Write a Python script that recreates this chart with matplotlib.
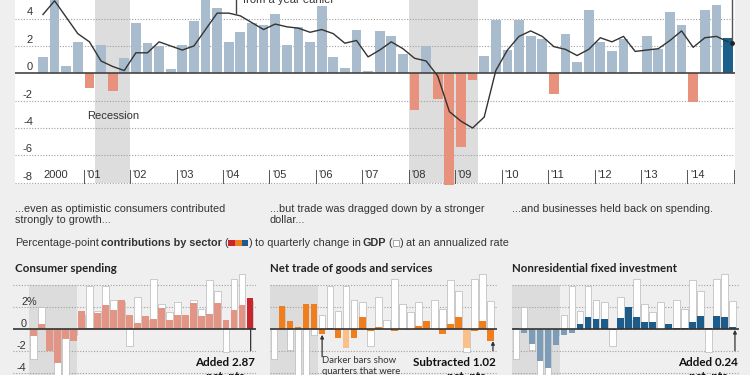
import matplotlib
matplotlib.use('Agg')
import matplotlib.pyplot as plt
from matplotlib.patches import Rectangle

# ---- data ----
years = list(range(2000, 2015))
# quarterly GDP change, annualized (%), 2000Q1 - 2014Q4
gdp = [1.2, 7.8, 0.5, 2.3, -1.1, 2.1, -1.3, 1.1,
       3.7, 2.2, 2.0, 0.3, 2.1, 3.8, 6.9, 4.8,
       2.3, 3.0, 3.7, 3.5, 4.3, 2.1, 3.4, 2.3,
       4.9, 1.2, 0.4, 3.2, 0.2, 3.1, 2.7, 1.4,
       -2.7, 2.0, -1.9, -8.2, -5.4, -0.5, 1.3, 3.9,
       1.7, 3.9, 2.7, 2.5, -1.5, 2.9, 0.8, 4.6,
       2.3, 1.6, 2.5, 0.1, 2.7, 1.8, 4.5, 3.5,
       -2.1, 4.6, 5.0, 2.6]
# change from a year earlier (%)
yoy = [4.3, 5.3, 4.1, 2.9, 2.3, 0.9, 0.5, 0.2,
       1.5, 1.5, 2.3, 2.0, 1.7, 2.0, 3.2, 4.4,
       4.4, 4.2, 3.7, 3.2, 3.6, 3.4, 3.3, 3.0,
       3.2, 2.9, 2.2, 2.4, 1.2, 1.7, 2.3, 1.8,
       1.1, 0.9, -0.2, -2.8, -3.5, -4.0, -3.2, 0.2,
       1.7, 2.7, 3.1, 2.7, 1.95, 1.75, 1.3, 1.75,
       2.6, 2.3, 2.7, 1.6, 1.7, 1.8, 2.4, 3.1,
       1.9, 2.6, 2.7, 2.3]
recessions = [(5, 7), (32, 37)]   # quarter index ranges (2001Q2-Q4, 2008Q1-2009Q2)

# sector contributions, pct. pts., 2008Q1 - 2014Q4
gdp_small = gdp[32:]
consumer = [-0.6, 0.5, -2.0, -3.1, -0.9, -1.1, 1.7, 0.1, 1.45, 2.2, 1.75, 2.7, 1.3, 0.55,
            1.2, 0.9, 1.9, 0.85, 1.3, 1.3, 2.4, 1.2, 1.35, 2.4, 0.85, 1.75, 2.2, 2.87]
net_trade = [0.0, 2.1, 0.75, 0.25, 2.3, 2.3, -0.4, 0.1, -0.8, -1.7, -0.8, 1.1, -0.2, 0.2,
             0.0, -0.15, 0.0, 0.0, 0.3, 0.75, 0.0, -0.4, 0.5, 1.1, -1.7, -0.2, 0.75, -1.02]
nonres = [0.1, -0.3, -1.3, -2.9, -3.5, -1.4, -0.5, -0.3, 0.45, 1.15, 0.9, 0.9, -0.05, 1.0,
          2.0, 1.1, 0.7, 0.7, 0.0, 0.45, 0.1, 0.1, 0.7, 1.2, 0.1, 1.2, 1.1, 0.24]
consumer_dark = [27]
trade_light = [9, 24]
nonres_light = [0, 1, 2, 3, 4, 5, 6, 7]

W, H = 750, 375
BG = '#efefef'
TXT = '#333333'
plt.rcParams['font.family'] = ['Liberation Sans', 'DejaVu Sans']
NARROW = dict(family=['Lato', 'Liberation Sans'])

fig = plt.figure(figsize=(7.5, 3.75), dpi=100)
fig.patch.set_facecolor(BG)


def px_axes(left, top, right, bottom):
    a = fig.add_axes([left / W, 1 - bottom / H, (right - left) / W, (bottom - top) / H])
    a.set_facecolor('none')
    a.axis('off')
    return a


def dotted(a, v):
    a.axhline(v, color='#a0a0a0', lw=0.8, ls=(0, (1, 1.5)), zorder=1)


# ---- top chart ----
ax = px_axes(15, 0, 735, 186)
ax.set_xlim(-2.41, 59.6)
ax.set_ylim(-8.24, 5.36)
ax.axhspan(-8, 6, color='white', zorder=0)
for a, b in recessions:
    ax.add_patch(Rectangle((a - 0.5, -8), b - a + 1, 14, color='#dddddd', lw=0, zorder=0.5))
for v in [4, 2, -2, -4, -6, -8]:
    dotted(ax, v)
x = list(range(len(gdp)))
cols = ['#a9bccd' if v >= 0 else '#e8917d' for v in gdp]
cols[-1] = '#1b5f8c'
ax.bar(x, gdp, width=0.84, color=cols, zorder=2)
ax.axhline(0, color='#444444', lw=1.2, zorder=3)
ax.plot(x, yoy, color='#333333', lw=1.0, zorder=4)

for v in [4, 2, 0, -2, -4, -6, -8]:
    ax.text(-0.86, v + 0.45, str(v), ha='right', va='center', fontsize=8, color=TXT)
ax.text(0.0, -7.45, '2000', ha='left', va='center', fontsize=8, color=TXT)
for i, yr in enumerate(years[1:], start=1):
    b = 4 * i - 0.5
    ax.plot([b, b], [-7.05, -8], color='#555555', lw=0.7, zorder=3)
    ax.text(b + 0.22, -7.45, "'%02d" % (yr % 100), ha='left', va='center', fontsize=8, color=TXT)
ax.plot([59.5, 59.5], [-7.05, -8], color='#555555', lw=0.7, zorder=3)
ax.text(6.03, -3.13, 'Recession', ha='center', va='center', fontsize=8, color=TXT)

# leaders from annotations above the crop
ax.plot([16.62, 16.62], [4.41, 5.5], color='#444444', lw=1.0, zorder=5, clip_on=False)
ax.plot([59.35, 59.35], [2.25, 5.5], color='#555555', lw=1.0, zorder=5, clip_on=False)
ax.plot([59.35], [2.25], 'o', ms=2.5, color='#222222', zorder=6)
fig.text(243 / W, 1 - 3 / H, 'from a year earlier', va='baseline', ha='left', fontsize=8, color=TXT)

# ---- middle text ----
fs = 7.8
fig.text(15 / W, 1 - 204 / H, '...even as optimistic consumers contributed\nstrongly to growth...',
         va='top', ha='left', fontsize=fs, color=TXT, linespacing=1.18)
fig.text(270 / W, 1 - 204 / H, '...but trade was dragged down by a stronger\ndollar...',
         va='top', ha='left', fontsize=fs, color=TXT, linespacing=1.18)
fig.text(512 / W, 1 - 204 / H, '...and businesses held back on spending.',
         va='top', ha='left', fontsize=fs, color=TXT)

rend = fig.canvas.get_renderer()


def run(xp, yp, pieces):
    for kind, val, weight, gap in pieces:
        if kind == 't':
            t = fig.text(xp / W, 1 - yp / H, val, fontsize=fs, fontweight=weight,
                         color=TXT, va='center', ha='left')
            xp = t.get_window_extent(rend).x1 + gap
        else:
            fig.add_artist(Rectangle((xp / W, 1 - (yp + 3) / H), 6.3 / W, 6.5 / H,
                                     transform=fig.transFigure, facecolor=val,
                                     edgecolor='#999999' if val == 'white' else 'none', lw=0.6))
            xp += 6.3 + gap


run(15, 243, [('t', 'Percentage-point', 'normal', 2.2),
              ('t', 'contributions by sector', 'bold', 2.2),
              ('t', '(', 'normal', 0.6),
              ('s', '#c9252c', None, 0.6), ('s', '#f07d1e', None, 0.6), ('s', '#1d5b8a', None, 0.6),
              ('t', ')', 'normal', 2.2),
              ('t', 'to quarterly change in', 'normal', 2.2),
              ('t', 'GDP', 'bold', 2.2),
              ('t', '(', 'normal', 0.6),
              ('s', 'white', None, 0.6),
              ('t', ')', 'normal', 2.2),
              ('t', 'at an annualized rate', 'normal', 0)])

# ---- small panels ----
QW = 8.02
panels = [
    (13, 256, 29.3, 'Consumer spending', consumer, '#e39484', '#c9252c', consumer_dark),
    (270, 497, 270, 'Net trade of goods and services', net_trade, '#f07d1e', '#f9c08c', trade_light),
    (512, 739, 512, 'Nonresidential fixed investment', nonres, '#1d5b8a', '#7d9cb8', nonres_light),
]
notes = ['Added 2.87', 'Subtracted 1.02', 'Added 0.24']
for k, (L, R, S, title, vals, c_main, c_alt, alt_idx) in enumerate(panels):
    a = px_axes(L, 271, R, 375)
    a.set_xlim((L - S) / QW - 0.5, (R - S) / QW - 0.5)
    a.set_ylim(-4.155, 5.3)
    a.add_patch(Rectangle((-0.5, -10), 6, 14, color='#dcdcdc', lw=0, zorder=0))
    for v in [4, 2, -2, -4]:
        dotted(a, v)
    xs = list(range(len(vals)))
    a.bar(xs, gdp_small, width=0.82, color='white', edgecolor='#b8b8b8', lw=0.5, zorder=2)
    cc = [c_alt if i in alt_idx else c_main for i in xs]
    a.bar(xs, vals, width=0.82, color=cc, zorder=3)
    a.axhline(0, color='#333333', lw=1.2, zorder=4)
    fig.text(15 / W if k == 0 else L / W, 1 - 268 / H, title, fontsize=8.3, fontweight='bold',
             color='#222222', va='center', ha='left', **NARROW)
    # leader + note for latest quarter
    xl = 27.1 if k == 0 else 27.3
    a.annotate('', xy=(xl, min(vals[-1], 0) - 0.05), xytext=(xl, -1.95),
               arrowprops=dict(arrowstyle='-|>' if k else '-', lw=0.9, color='#333333',
                               mutation_scale=5, shrinkA=0, shrinkB=0), zorder=5)
    fig.text((R - 1) / W, 1 - 363 / H, notes[k], fontsize=8.4, fontweight='bold',
             color='#111111', ha='right', va='center', **NARROW)
    fig.text((R - 29) / W, 1 - 379.5 / H, 'pct. pts.', fontsize=8.4, fontweight='bold',
             color='#111111', ha='center', va='baseline', **NARROW)
    if k == 0:
        for v, s in [(2, '2%'), (0, '0'), (-2, '-2'), (-4, '-4')]:
            if s == '2%':
                a.text((21.5 - S) / QW - 0.5, v + 0.45, s, ha='left', va='center', fontsize=7.8, color=TXT)
            else:
                a.text((26.5 - S) / QW - 0.5, v + 0.5, s, ha='right', va='center', fontsize=7.8, color=TXT)
    if k == 1:
        a.annotate('', xy=(6, -0.5), xytext=(6, -2.5),
                   arrowprops=dict(arrowstyle='-|>', lw=0.9, color='#333333',
                                   mutation_scale=5, shrinkA=0, shrinkB=0), zorder=5)
        fig.text(322 / W, 1 - 356 / H, 'Darker bars show\nquarters that were', fontsize=6.9,
                 color=TXT, ha='left', va='top', linespacing=1.35, **NARROW)

fig.savefig('out.png', dpi=100, facecolor=BG)
